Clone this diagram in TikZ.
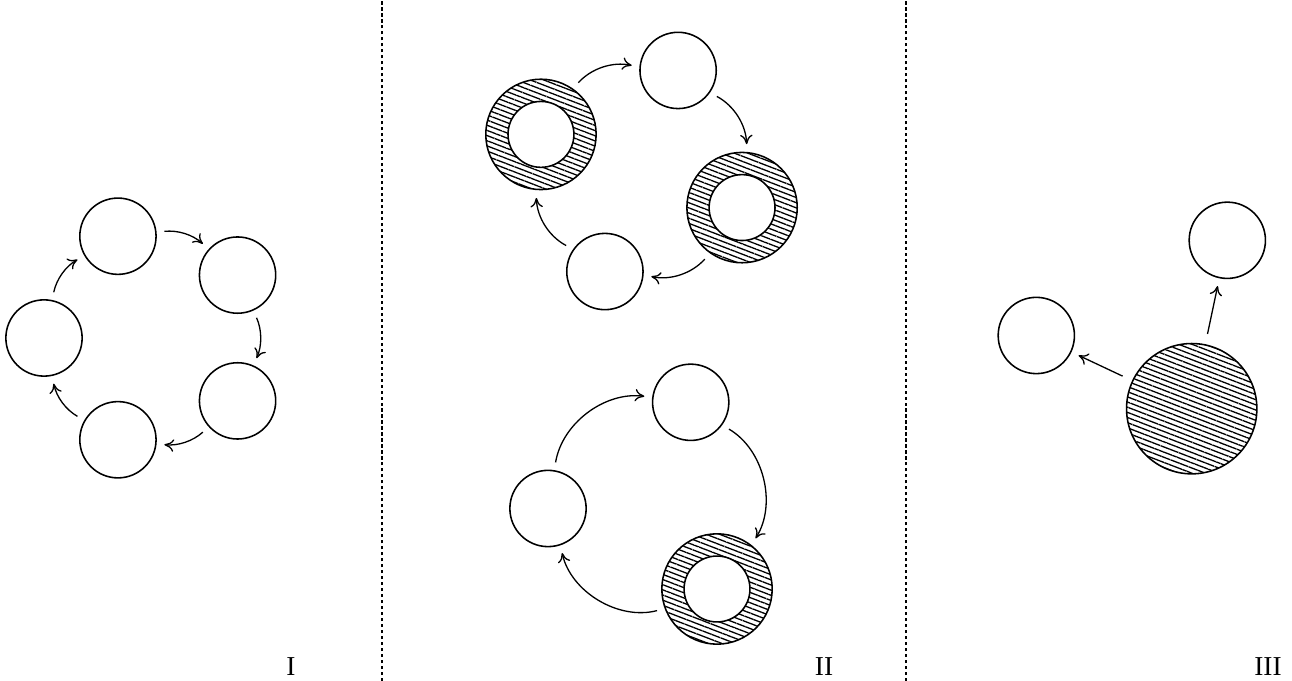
\documentclass[tikz,border=0pt]{standalone}
\usepackage{fontspec}
\setmainfont{Liberation Serif}
\usepackage{tikz}
\usetikzlibrary{arrows.meta, patterns.meta, calc}
\tikzset{
  cell/.style={circle, draw, line width=0.6pt, inner sep=0pt, minimum size=1.03cm},
  ring/.style={cell, minimum size=1.49cm, pattern={Lines[angle=-21, distance=1.85pt, line width=0.5pt]}},
  hole/.style={cell, fill=white, minimum size=0.89cm},
  core/.style={ring, minimum size=1.76cm},
  arr/.style={-{To[length=3.6pt, width=4.8pt]}, line width=0.5pt, shorten <=3pt, shorten >=3pt},
  sep/.style={line width=0.4pt, dash pattern=on 1.2pt off 1.1pt},
  lab/.style={anchor=base, font=\fontsize{10.5}{12}\selectfont},
}

\begin{document}
\begin{tikzpicture}[x=0.0135cm, y=0.0135cm]
  \useasboundingbox (0,0) rectangle (1292,681);
  % panel I
  \coordinate (c1) at (151,343);
  \node[cell] (a1) at ($(c1)+(108:107)$) {};
  \node[cell] (a2) at ($(c1)+(36:107)$) {};
  \node[cell] (a3) at ($(c1)+(-36:107)$) {};
  \node[cell] (a4) at ($(c1)+(-108:107)$) {};
  \node[cell] (a5) at ($(c1)+(180:107)$) {};
  \draw[arr] (a1) to[bend left=24] (a2);
  \draw[arr] (a2) to[bend left=24] (a3);
  \draw[arr] (a3) to[bend left=24] (a4);
  \draw[arr] (a4) to[bend left=24] (a5);
  \draw[arr] (a5) to[bend left=24] (a1);
  % panel II, top
  \coordinate (c2) at (641.5,510);
  \node[cell] (b1) at ($(c2)+(70:107)$) {};
  \node[ring] (b2) at ($(c2)+(-20:107)$) {};
  \node[hole] at (b2) {};
  \node[cell] (b3) at ($(c2)+(-110:107)$) {};
  \node[ring] (b4) at ($(c2)+(160:107)$) {};
  \node[hole] at (b4) {};
  \draw[arr] (b4) to[bend left=30] (b1);
  \draw[arr] (b1) to[bend left=30] (b2);
  \draw[arr] (b2) to[bend left=30] (b3);
  \draw[arr] (b3) to[bend left=30] (b4);
  % panel II, bottom
  \node[cell] (d1) at (690.7,278.7) {};
  \node[ring] (d2) at (717,92) {};
  \node[hole] at (d2) {};
  \node[cell] (d3) at (548,172.5) {};
  \draw[arr] (d3) to[bend left=44] (d1);
  \draw[arr] (d1) to[bend left=46] (d2);
  \draw[arr] (d2) to[bend left=46] (d3);
  % panel III
  \node[cell] (e1) at (1227.3,440.7) {};
  \node[cell] (e2) at (1036.3,345.5) {};
  \node[core] (e3) at (1191.7,272.3) {};
  \draw[arr, shorten <=4pt] (e3) -- (e1);
  \draw[arr, shorten <=4pt] (e3) -- (e2);
  % separators and labels
  \draw[sep] (382,0) -- (382,681);
  \draw[sep] (906,0) -- (906,681);
  \node[lab] (l1) at (291,5) {I};
  \node[lab] (l2) at (824,5) {II};
  \node[lab] (l3) at (1268,5) {III};
\end{tikzpicture}
\end{document}
